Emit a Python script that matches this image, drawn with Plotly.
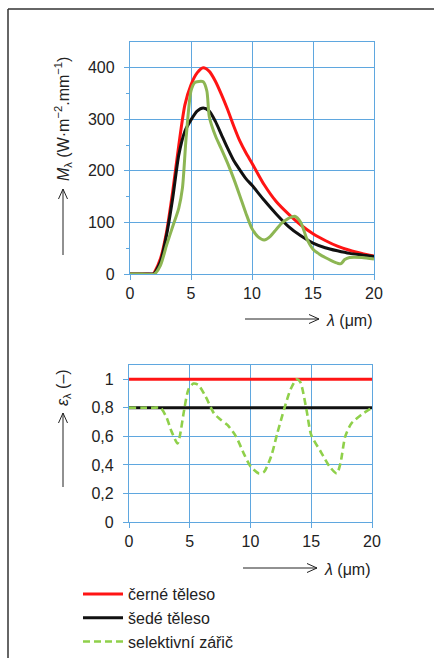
import plotly.graph_objects as go
from plotly.subplots import make_subplots

W, H = 434, 658

# ---- data ----
lam = [0, 1, 1.9, 2, 2.5, 3, 3.5, 4, 4.5, 5, 5.5, 6, 6.5, 7, 7.5, 8, 8.5, 9, 9.5,
       10, 11, 12, 13, 14, 15, 16, 17, 18, 19, 20]
black_body = [0, 0, 0, 3, 30, 82, 160, 250, 328, 367, 390, 400, 393, 374, 348, 319,
              287, 258, 235, 215, 173, 140, 116, 95, 78, 65, 54, 46, 40, 35]
grey_body = [0, 0, 0, 1, 24, 76, 147, 231, 277, 299, 316, 322, 316, 296, 270, 244,
             220, 202, 185, 172, 143, 116, 92, 74, 60, 51, 45, 40, 37, 34]

sel_lam = [0, 1, 2, 2.5, 3, 3.5, 4, 4.3, 4.6, 5, 5.3, 5.5, 6, 6.3, 6.5, 7, 7.5, 8,
           8.5, 9, 9.5, 10, 10.5, 11, 11.5, 12, 12.5, 13, 13.5, 14, 14.5, 15, 15.5,
           16, 16.5, 17, 17.3, 17.6, 18, 19, 20]
selective = [0, 0, 0, 17, 56, 92, 128, 167, 264, 355, 371, 373, 373, 355, 305, 268,
             242, 215, 185, 152, 118, 88, 72, 66, 73, 87, 100, 108, 112, 100, 68, 48,
             39, 32, 26, 21, 20, 28, 32, 32, 29]

eps_lam_flat = [0, 20]
eps_black = [1, 1]
eps_grey = [0.8, 0.8]
eps_lam = [0, 1, 2, 2.6, 3.1, 3.5, 4.0, 4.2, 4.55, 4.9, 5.3, 5.7, 6.3, 7, 7.5, 8.1,
           8.8, 9.5, 10, 10.7, 11.1, 11.7, 12.2, 12.8, 13.3, 13.8, 14.1, 14.6, 15,
           15.8, 16.5, 17.1, 17.4, 17.8, 18.3, 19.1, 20]
eps_sel = [0.8, 0.8, 0.8, 0.8, 0.73, 0.635, 0.55, 0.61, 0.79, 0.93, 0.97, 0.96, 0.88,
           0.76, 0.72, 0.68, 0.6, 0.47, 0.39, 0.34, 0.35, 0.46, 0.62, 0.8, 0.93, 1.0,
           0.98, 0.79, 0.61, 0.49, 0.39, 0.34, 0.41, 0.6, 0.69, 0.75, 0.8]

x_ticks = [0, 5, 10, 15, 20]
top_y_ticks = [0, 100, 200, 300, 400]
bot_y_ticks = [0, 0.2, 0.4, 0.6, 0.8, 1]
bot_y_labels = ["0", "0,2", "0,4", "0,6", "0,8", "1"]
names = ["černé těleso", "šedé těleso", "selektivní zářič"]

RED = "#ff1414"
BLACK = "#111111"
GREEN_TOP = "#8db653"
GREEN_BOT = "#8fd04a"
GRID = "#5fa7df"
TXT = "#222222"
FONT = "Liberation Sans, Arial, sans-serif"


def px(x):
    return x / W


def py(y):
    return 1 - y / H


fig = make_subplots(rows=2, cols=1)

# top plot
fig.add_trace(go.Scatter(x=lam, y=black_body, mode="lines", line=dict(color=RED, width=3, shape="spline", smoothing=0.7),
                         showlegend=False, name=names[0]), row=1, col=1)
fig.add_trace(go.Scatter(x=lam, y=grey_body, mode="lines", line=dict(color=BLACK, width=3, shape="spline", smoothing=0.7),
                         showlegend=False, name=names[1]), row=1, col=1)
fig.add_trace(go.Scatter(x=sel_lam, y=selective, mode="lines", line=dict(color=GREEN_TOP, width=3, shape="spline", smoothing=0.7),
                         showlegend=False, name=names[2]), row=1, col=1)

# bottom plot
fig.add_trace(go.Scatter(x=eps_lam_flat, y=eps_black, mode="lines", line=dict(color=RED, width=3),
                         name=names[0]), row=2, col=1)
fig.add_trace(go.Scatter(x=eps_lam_flat, y=eps_grey, mode="lines", line=dict(color=BLACK, width=3),
                         name=names[1]), row=2, col=1)
fig.add_trace(go.Scatter(x=eps_lam, y=eps_sel, mode="lines",
                         line=dict(color=GREEN_BOT, width=2.6, dash="7px,4px", shape="spline", smoothing=0.7),
                         name=names[2]), row=2, col=1)

axis_common = dict(showgrid=True, gridcolor=GRID, gridwidth=1.3, showline=True, linecolor=GRID,
                   linewidth=1.3, mirror=True, ticks="outside", ticklen=5, tickcolor=GRID,
                   tickwidth=1.3, zeroline=False, automargin=False,
                   tickfont=dict(family=FONT, size=16, color=TXT))

fig.update_xaxes(range=[0, 20], tickvals=x_ticks, **axis_common)
fig.update_xaxes(domain=[px(130), px(374)], row=1, col=1)
fig.update_xaxes(domain=[px(129), px(372)], row=2, col=1)
fig.update_yaxes(**axis_common, ticklabelstandoff=6)
fig.update_yaxes(domain=[py(274), py(42)], range=[0, 450], tickvals=top_y_ticks,
                 minor=dict(tickvals=[50, 150, 250, 350], ticks="outside", ticklen=3, tickcolor=GRID, showgrid=False),
                 row=1, col=1)
fig.update_yaxes(domain=[py(522), py(365)], range=[0, 1.1], tickvals=bot_y_ticks, ticktext=bot_y_labels,
                 row=2, col=1)

ann = []
shapes = []


def harrow(x0, x1, y):
    shapes.append(dict(type="line", xref="paper", yref="paper", x0=px(x0), x1=px(x1), y0=py(y), y1=py(y),
                       line=dict(color="#222", width=1)))
    shapes.append(dict(type="path", xref="paper", yref="paper",
                       path=f"M{px(x1-10)},{py(y-4.5)} L{px(x1)},{py(y)} L{px(x1-10)},{py(y+4.5)}",
                       line=dict(color="#222", width=1)))


def varrow(x, y0, y1):
    shapes.append(dict(type="line", xref="paper", yref="paper", x0=px(x), x1=px(x), y0=py(y0), y1=py(y1),
                       line=dict(color="#222", width=1)))
    shapes.append(dict(type="path", xref="paper", yref="paper",
                       path=f"M{px(x-4.5)},{py(y1+10)} L{px(x)},{py(y1)} L{px(x+4.5)},{py(y1+10)}",
                       line=dict(color="#222", width=1)))


harrow(245, 319, 319)
harrow(243, 317, 568)
varrow(63, 255, 189)
varrow(63, 487, 413)

lbl_font = dict(family=FONT, size=16, color=TXT)
ann.append(dict(text="<i>λ</i> (μm)", x=px(324), y=py(320), xref="paper", yref="paper",
                xanchor="left", yanchor="middle", showarrow=False, font=lbl_font))
ann.append(dict(text="<i>λ</i> (μm)", x=px(322), y=py(569), xref="paper", yref="paper",
                xanchor="left", yanchor="middle", showarrow=False, font=lbl_font))
ann.append(dict(text="<i>M</i><sub>λ</sub> (W·m<sup>−2</sup>.mm<sup>−1</sup>)", x=px(63), y=py(119),
                xref="paper", yref="paper", xanchor="center", yanchor="middle",
                textangle=-90, showarrow=False, font=lbl_font))
ann.append(dict(text="<i>ε</i><sub>λ</sub> (–)", x=px(63), y=py(388),
                xref="paper", yref="paper", xanchor="center", yanchor="middle",
                textangle=-90, showarrow=False, font=lbl_font))

# frame
shapes.append(dict(type="line", xref="paper", yref="paper", x0=px(8), x1=px(8), y0=py(9), y1=0,
                   line=dict(color="#333", width=1.5)))
shapes.append(dict(type="line", xref="paper", yref="paper", x0=px(8), x1=1, y0=py(9), y1=py(9),
                   line=dict(color="#333", width=1.5)))

fig.update_layout(
    width=W, height=H, margin=dict(l=0, r=0, t=0, b=0, autoexpand=False),
    paper_bgcolor="white", plot_bgcolor="white",
    annotations=ann, shapes=shapes,
    legend=dict(x=px(78), y=py(577), xanchor="left", yanchor="top", bgcolor="rgba(0,0,0,0)",
                font=dict(family=FONT, size=16, color=TXT), tracegroupgap=0, itemwidth=40),
    font=dict(family=FONT, color=TXT),
)

fig.write_html("out.html", config={"displayModeBar": False},
               post_script="document.body.style.margin='0px';document.body.style.overflow='hidden';")
